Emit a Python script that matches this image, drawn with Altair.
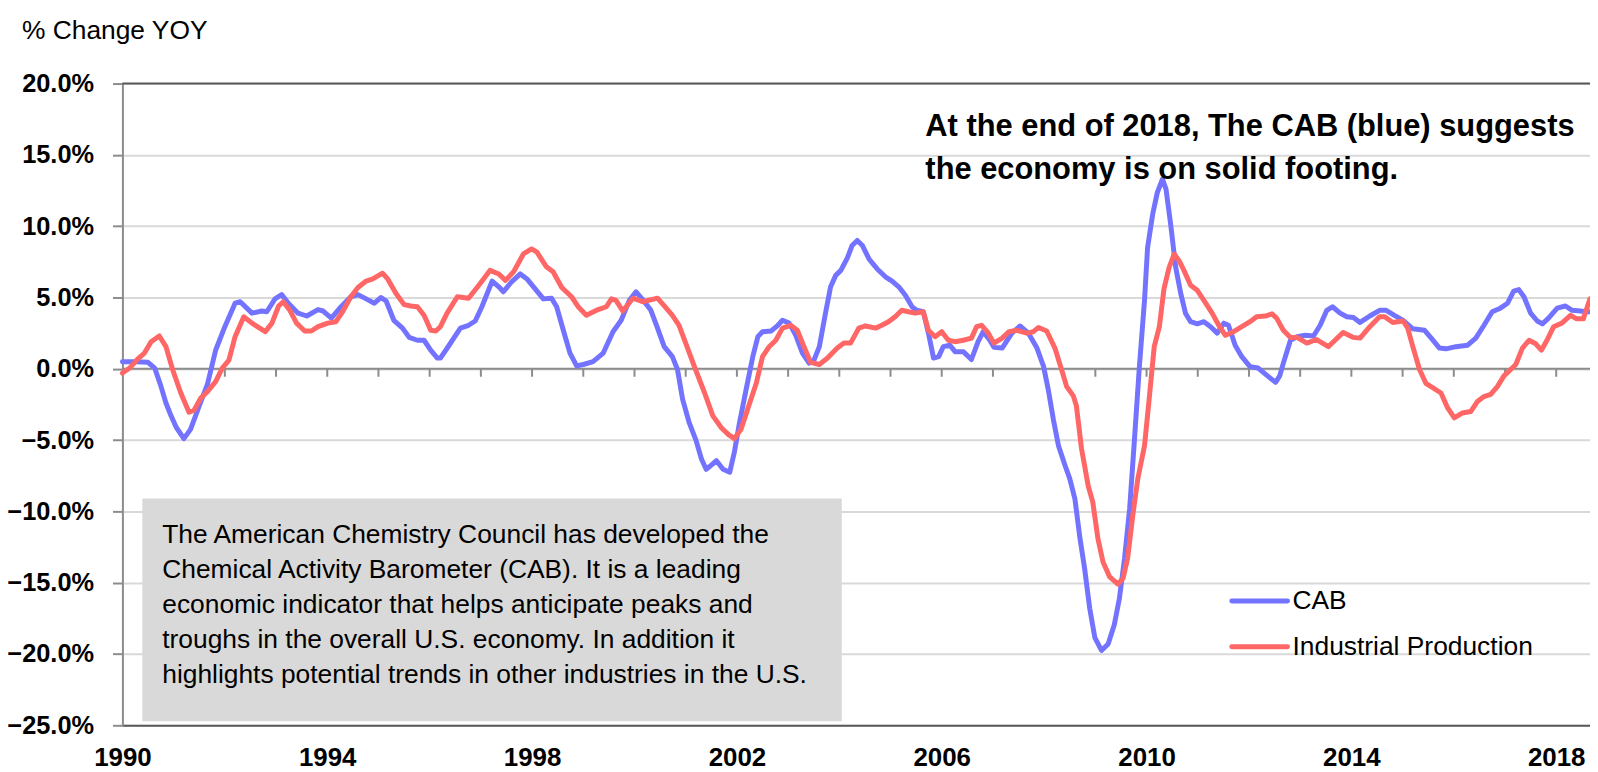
import altair as alt
import pandas as pd

# ---------------- data ----------------
cab_t = [1990.0, 1990.27, 1990.5, 1990.63, 1990.75, 1990.85, 1990.95, 1991.05, 1991.2, 1991.33,
         1991.5, 1991.66, 1991.82, 1992.0, 1992.2, 1992.3, 1992.53, 1992.72, 1992.82, 1992.98,
         1993.11, 1993.24, 1993.43, 1993.6, 1993.82, 1993.92, 1994.08, 1994.27, 1994.46, 1994.6,
         1994.76, 1994.92, 1995.05, 1995.15, 1995.3, 1995.47, 1995.6, 1995.76, 1995.89, 1996.02,
         1996.15, 1996.21, 1996.38, 1996.6, 1996.76, 1996.89, 1997.02, 1997.22, 1997.35, 1997.44,
         1997.6, 1997.77, 1997.9, 1998.06, 1998.22, 1998.38, 1998.48, 1998.61, 1998.74, 1998.87,
         1999.0, 1999.19, 1999.39, 1999.58, 1999.74, 1999.9, 2000.03, 2000.16, 2000.32, 2000.45,
         2000.58, 2000.74, 2000.84, 2000.94, 2001.07, 2001.2, 2001.31, 2001.4, 2001.5, 2001.6,
         2001.73, 2001.86, 2001.95, 2002.05, 2002.18, 2002.31, 2002.41, 2002.5, 2002.67, 2002.8,
         2002.89, 2003.02, 2003.15, 2003.28, 2003.41, 2003.51, 2003.61, 2003.73, 2003.83, 2003.93,
         2004.03, 2004.16, 2004.25, 2004.35, 2004.45, 2004.58, 2004.74, 2004.9, 2005.03, 2005.16,
         2005.29, 2005.42, 2005.51, 2005.64, 2005.74, 2005.84, 2005.94, 2006.03, 2006.16, 2006.26,
         2006.42, 2006.58, 2006.71, 2006.81, 2006.94, 2007.02, 2007.18, 2007.37, 2007.53, 2007.69,
         2007.86, 2007.99, 2008.08, 2008.18, 2008.28, 2008.41, 2008.5, 2008.6, 2008.7, 2008.79,
         2008.89, 2008.99, 2009.12, 2009.25, 2009.37, 2009.47, 2009.57, 2009.67, 2009.76, 2009.86,
         2009.96, 2010.02, 2010.12, 2010.21, 2010.31, 2010.38, 2010.47, 2010.57, 2010.67, 2010.76,
         2010.86, 2010.99, 2011.12, 2011.25, 2011.38, 2011.51, 2011.6, 2011.73, 2011.86, 2012.02,
         2012.18, 2012.38, 2012.52, 2012.6, 2012.68, 2012.81, 2012.94, 2013.1, 2013.26, 2013.39,
         2013.52, 2013.63, 2013.78, 2013.91, 2014.04, 2014.17, 2014.36, 2014.55, 2014.68, 2014.84,
         2015.01, 2015.2, 2015.43, 2015.56, 2015.72, 2015.85, 2016.04, 2016.27, 2016.43, 2016.59,
         2016.75, 2016.91, 2017.05, 2017.17, 2017.27, 2017.37, 2017.5, 2017.63, 2017.73, 2017.85,
         2018.02, 2018.18, 2018.31, 2018.47, 2018.6, 2018.66]
cab_v = [0.5, 0.5, 0.45, 0.05, -1.2, -2.4, -3.3, -4.1, -4.9, -4.25,
         -2.6, -1.1, 1.3, 2.95, 4.6, 4.7, 3.9, 4.05, 4.0, 4.9,
         5.2, 4.6, 3.9, 3.7, 4.15, 4.05, 3.55, 4.35, 5.05, 5.2,
         4.9, 4.6, 5.0, 4.75, 3.4, 2.85, 2.2, 2.0, 2.0, 1.3,
         0.75, 0.75, 1.65, 2.85, 3.05, 3.35, 4.35, 6.15, 5.75, 5.4,
         6.1, 6.65, 6.3, 5.6, 4.9, 4.95, 4.35, 2.7, 1.1, 0.2,
         0.3, 0.5, 1.1, 2.6, 3.4, 4.8, 5.4, 4.85, 4.1, 2.85,
         1.55, 0.85, -0.05, -2.15, -3.8, -5.0, -6.35, -7.05, -6.75, -6.45,
         -7.05, -7.25, -5.85, -3.8, -1.45, 0.85, 2.25, 2.6, 2.65, 3.05,
         3.4, 3.2, 2.35, 1.1, 0.4, 0.65, 1.55, 3.9, 5.75, 6.55,
         6.9, 7.8, 8.65, 9.0, 8.65, 7.7, 7.0, 6.45, 6.15, 5.75,
         5.15, 4.35, 4.1, 4.0, 2.5, 0.75, 0.85, 1.55, 1.65, 1.2,
         1.2, 0.65, 1.9, 2.6, 2.0, 1.5, 1.45, 2.5, 3.0, 2.5,
         1.45, 0.15, -1.45, -3.55, -5.4, -6.8, -7.7, -9.1, -11.9, -14.0,
         -16.8, -18.85, -19.75, -19.3, -17.95, -16.1, -13.3, -9.8, -5.15, 0.15,
         4.8, 8.5, 10.85, 12.35, 13.3, 12.6, 10.15, 7.1, 5.25, 3.9,
         3.3, 3.15, 3.3, 2.95, 2.5, 3.2, 3.05, 1.65, 0.85, 0.15,
         0.05, -0.55, -0.95, -0.5, 0.5, 2.0, 2.25, 2.35, 2.3, 3.05,
         4.1, 4.35, 3.9, 3.65, 3.6, 3.25, 3.7, 4.1, 4.1, 3.75,
         3.4, 2.8, 2.7, 2.15, 1.45, 1.4, 1.55, 1.65, 2.15, 3.05,
         4.0, 4.25, 4.6, 5.45, 5.55, 5.05, 3.9, 3.35, 3.15, 3.55,
         4.25, 4.4, 4.1, 4.05, 4.0, 4.0]

ip_t = [1990.0, 1990.14, 1990.3, 1990.43, 1990.56, 1990.72, 1990.85, 1990.98, 1991.14, 1991.3,
        1991.4, 1991.53, 1991.66, 1991.82, 1991.95, 1992.08, 1992.2, 1992.37, 1992.53, 1992.79,
        1992.92, 1993.05, 1993.14, 1993.27, 1993.4, 1993.56, 1993.69, 1993.82, 1994.01, 1994.17,
        1994.3, 1994.46, 1994.6, 1994.76, 1994.89, 1995.08, 1995.18, 1995.34, 1995.5, 1995.63,
        1995.76, 1995.89, 1996.02, 1996.12, 1996.21, 1996.34, 1996.54, 1996.76, 1996.99, 1997.18,
        1997.35, 1997.48, 1997.64, 1997.83, 1997.99, 1998.09, 1998.28, 1998.41, 1998.58, 1998.77,
        1998.9, 1999.06, 1999.29, 1999.45, 1999.55, 1999.64, 1999.77, 1999.97, 2000.16, 2000.45,
        2000.62, 2000.74, 2000.87, 2001.0, 2001.17, 2001.37, 2001.53, 2001.7, 2001.83, 2001.95,
        2002.08, 2002.25, 2002.38, 2002.5, 2002.63, 2002.76, 2002.89, 2003.05, 2003.18, 2003.31,
        2003.44, 2003.61, 2003.77, 2003.96, 2004.09, 2004.22, 2004.38, 2004.51, 2004.71, 2004.83,
        2004.96, 2005.09, 2005.22, 2005.35, 2005.48, 2005.64, 2005.74, 2005.87, 2006.0, 2006.13,
        2006.26, 2006.42, 2006.58, 2006.68, 2006.78, 2006.91, 2007.02, 2007.18, 2007.31, 2007.47,
        2007.66, 2007.79, 2007.89, 2008.05, 2008.21, 2008.34, 2008.44, 2008.57, 2008.63, 2008.73,
        2008.86, 2008.95, 2009.05, 2009.15, 2009.28, 2009.44, 2009.54, 2009.63, 2009.73, 2009.83,
        2009.96, 2010.05, 2010.15, 2010.25, 2010.34, 2010.44, 2010.54, 2010.64, 2010.73, 2010.86,
        2010.99, 2011.12, 2011.28, 2011.41, 2011.54, 2011.7, 2011.86, 2012.02, 2012.15, 2012.32,
        2012.45, 2012.54, 2012.67, 2012.81, 2012.94, 2013.13, 2013.32, 2013.55, 2013.68, 2013.84,
        2014.04, 2014.17, 2014.36, 2014.55, 2014.65, 2014.81, 2015.01, 2015.1, 2015.2, 2015.33,
        2015.46, 2015.62, 2015.75, 2015.88, 2016.01, 2016.17, 2016.33, 2016.46, 2016.59, 2016.72,
        2016.85, 2016.98, 2017.11, 2017.21, 2017.34, 2017.47, 2017.6, 2017.71, 2017.82, 2017.95,
        2018.11, 2018.28, 2018.4, 2018.53, 2018.66]
ip_v = [-0.3, 0.05, 0.7, 1.1, 1.9, 2.3, 1.55, -0.05, -1.7, -3.05,
        -2.9, -2.05, -1.6, -0.9, 0.05, 0.6, 2.25, 3.65, 3.2, 2.6,
        3.2, 4.4, 4.7, 4.1, 3.2, 2.65, 2.65, 2.95, 3.2, 3.3,
        4.0, 5.05, 5.7, 6.15, 6.3, 6.7, 6.3, 5.3, 4.5, 4.4,
        4.35, 3.75, 2.7, 2.65, 2.95, 3.9, 5.05, 4.95, 6.0, 6.9,
        6.65, 6.2, 6.8, 8.05, 8.4, 8.2, 7.15, 6.8, 5.7, 5.05,
        4.35, 3.75, 4.15, 4.35, 4.9, 4.8, 4.05, 4.95, 4.7, 4.95,
        4.25, 3.75, 3.05, 1.8, 0.15, -1.7, -3.3, -4.15, -4.6, -4.9,
        -4.25, -2.4, -1.0, 0.85, 1.55, 2.0, 2.85, 3.05, 2.7, 1.55,
        0.45, 0.3, 0.75, 1.45, 1.8, 1.8, 2.85, 3.0, 2.85, 3.05,
        3.3, 3.65, 4.1, 4.0, 3.9, 4.0, 2.7, 2.25, 2.6, 2.0,
        1.9, 2.0, 2.15, 2.95, 3.05, 2.5, 1.8, 2.15, 2.6, 2.7,
        2.5, 2.6, 2.9, 2.65, 1.45, -0.05, -1.25, -1.9, -2.6, -5.6,
        -8.2, -9.35, -11.9, -13.55, -14.6, -15.1, -14.7, -13.3, -10.3, -7.7,
        -5.4, -2.15, 1.55, 2.95, 5.6, 7.1, 8.05, 7.55, 6.9, 5.85,
        5.5, 4.8, 3.9, 3.05, 2.35, 2.6, 2.95, 3.3, 3.65, 3.7,
        3.85, 3.55, 2.7, 2.2, 2.2, 1.8, 2.05, 1.55, 2.0, 2.55,
        2.2, 2.15, 2.95, 3.65, 3.65, 3.25, 3.35, 2.85, 1.55, -0.05,
        -1.05, -1.4, -1.7, -2.75, -3.45, -3.1, -3.0, -2.3, -1.95, -1.8,
        -1.25, -0.5, -0.05, 0.3, 1.45, 2.0, 1.75, 1.3, 2.0, 2.95,
        3.2, 3.75, 3.5, 3.5, 4.9]

series_names = ["CAB", "Industrial Production"]
series_colors = ["#7373ff", "#ff6666"]
x_label_years = [1990, 1994, 1998, 2002, 2006, 2010, 2014, 2018]
minor_years = list(range(1991, 2019))
y_ticks = [-25, -20, -15, -10, -5, 0, 5, 10, 15, 20]

title_text = "% Change YOY"
note_lines = ["At the end of 2018, The CAB (blue) suggests",
              "the economy is on solid footing."]
box_lines = ["The American Chemistry Council has developed the",
             "Chemical Activity Barometer (CAB). It is a leading",
             "economic indicator that helps anticipate peaks and",
             "troughs in the overall U.S. economy. In addition it",
             "highlights potential trends in other industries in the U.S."]

FONT = "Liberation Sans Narrow, Arial Narrow, Liberation Sans, Arial"

df = pd.concat([
    pd.DataFrame({"t": cab_t, "v": cab_v, "series": series_names[0]}),
    pd.DataFrame({"t": ip_t, "v": ip_v, "series": series_names[1]}),
])

W, H = 1475, 645
x_scale = alt.Scale(domain=[1990, 2018.66], nice=False, zero=False)
y_scale = alt.Scale(domain=[-25, 20], nice=False, zero=False)

x_axis = alt.Axis(values=x_label_years, format="d", title=None, grid=False, ticks=False,
                  domainColor="#595959", domainWidth=2, labelFont=FONT, labelFontSize=26,
                  labelFontWeight="bold", labelColor="black", labelPadding=19, labelFlush=False)
y_axis = alt.Axis(values=y_ticks, title=None, labelExpr="format(datum.value, '.1f') + '%'",
                  grid=True, gridColor="#d9d9d9", gridWidth=2, domainColor="#8c8c8c",
                  domainWidth=2, tickColor="#8c8c8c", tickSize=10, tickWidth=2,
                  labelFont=FONT, labelFontSize=25.5, labelFontWeight="bold",
                  labelColor="black", labelPadding=19)

one = pd.DataFrame({"a": [0]})

box = alt.Chart(one).mark_rect(color="#d9d9d9").encode(
    x=alt.value(20), x2=alt.value(723), y=alt.value(417), y2=alt.value(641))

zero_rule = alt.Chart(pd.DataFrame({"v": [0]})).mark_rule(color="#8c8c8c", strokeWidth=2).encode(
    y=alt.Y("v:Q", scale=y_scale, axis=y_axis))
top_rule = alt.Chart(pd.DataFrame({"v": [20]})).mark_rule(color="#595959", strokeWidth=2).encode(
    y=alt.Y("v:Q", scale=y_scale, axis=y_axis))
year_ticks = alt.Chart(pd.DataFrame({"t": minor_years})).mark_rule(
    color="#8c8c8c", strokeWidth=2, y2Offset=8).encode(
    x=alt.X("t:Q", scale=x_scale, axis=x_axis), y=alt.datum(0), y2=alt.datum(0))

lines = alt.Chart(df).mark_line(strokeWidth=5, strokeJoin="round", strokeCap="round").encode(
    x=alt.X("t:Q", scale=x_scale, axis=x_axis),
    y=alt.Y("v:Q", scale=y_scale, axis=y_axis),
    color=alt.Color("series:N", scale=alt.Scale(domain=series_names, range=series_colors), legend=None),
)

title = alt.Chart(one).mark_text(text=title_text, font=FONT, fontSize=26.5, align="left",
                                 baseline="alphabetic", color="black").encode(
    x=alt.value(-101), y=alt.value(-45))

note = alt.Chart(one).mark_text(text=note_lines, font=FONT, fontSize=31, fontWeight="bold",
                                align="left", baseline="alphabetic", lineHeight=43,
                                color="black").encode(x=alt.value(807), y=alt.value(53))

box_text = alt.Chart(one).mark_text(text=box_lines, font=FONT, fontSize=26.5, align="left",
                                    baseline="alphabetic", lineHeight=35,
                                    color="black").encode(x=alt.value(40), y=alt.value(462))

leg_df = pd.DataFrame({"series": series_names, "ly": [520, 566]})
leg_lines = alt.Chart(leg_df).mark_rule(strokeWidth=5, strokeCap="round").encode(
    x=alt.value(1115), x2=alt.value(1171), y=alt.Y("ly:Q", scale=None),
    color=alt.Color("series:N", scale=alt.Scale(domain=series_names, range=series_colors), legend=None))
leg_text = alt.Chart(leg_df).mark_text(font=FONT, fontSize=26.5, align="left", baseline="middle",
                                       color="black").encode(
    x=alt.value(1176), y=alt.Y("ly:Q", scale=None), text="series:N")

chart = alt.layer(box, zero_rule, top_rule, year_ticks, lines, title, note, box_text,
                  leg_lines, leg_text).properties(
    width=W, height=H,
    autosize=alt.AutoSizeParams(type="none"),
    padding={"left": 115, "top": 74, "right": 0, "bottom": 45},
).configure_view(stroke=None)

chart.save("out.html", embed_options={"renderer": "svg", "actions": False})
